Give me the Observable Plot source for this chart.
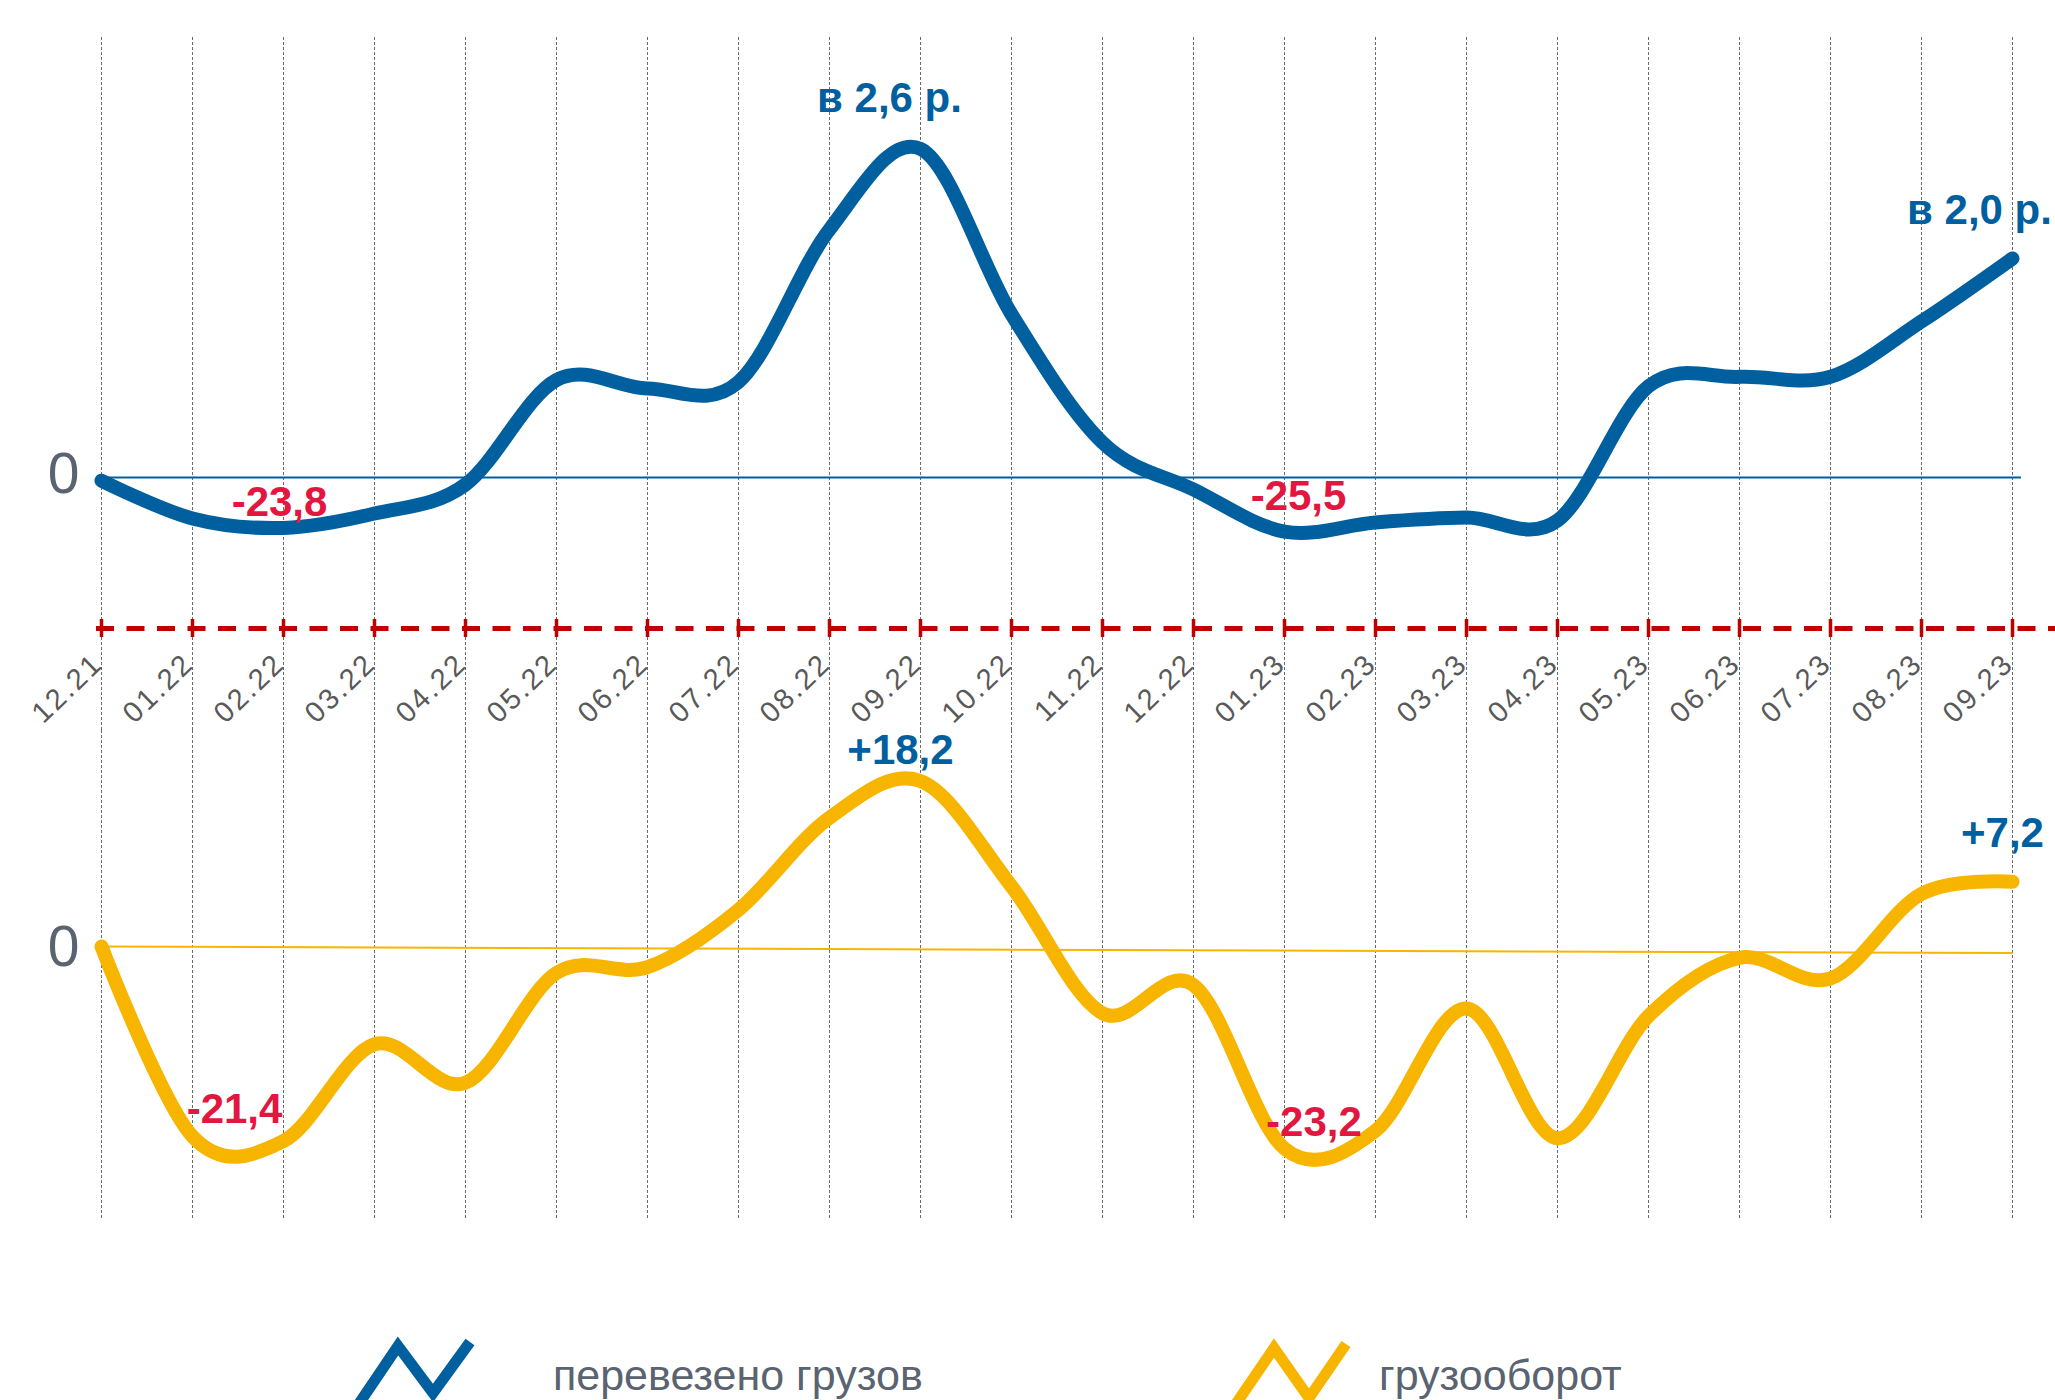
<!DOCTYPE html>
<html>
<head>
<meta charset="utf-8">
<script src="https://cdn.jsdelivr.net/npm/d3@7"></script>
<script src="https://cdn.jsdelivr.net/npm/@observablehq/plot@0.6"></script>
<style>
  html, body { margin: 0; padding: 0; background: #fff; overflow: hidden; }
  #wrap { position: relative; width: 2055px; height: 1400px; overflow: hidden; background: #fff;
          font-family: "Liberation Sans", Arial, sans-serif; }
  #top, #bottom, #legend { position: absolute; left: 0; }
  #top { top: 0; }
  #bottom { top: 730px; }
  #legend { top: 1300px; }
</style>
</head>
<body>
<div id="wrap"><div id="top"></div><div id="bottom"></div><div id="legend"></div></div>
<script>
// ---------- data ----------
const months = ["12.21","01.22","02.22","03.22","04.22","05.22","06.22","07.22","08.22","09.22","10.22",
                "11.22","12.22","01.23","02.23","03.23","04.23","05.23","06.23","07.23","08.23","09.23"];
// перевезено грузов, % к уровню 12.21
const cargo = [-1.5, -19.3, -23.8, -17.0, -3.3, 46, 42, 45, 117, 155, 77,
               16.5, -5.7, -25.5, -21.2, -18.9, -20.3, 43, 47.5, 47.5, 73.6, 103.3];
// грузооборот, % к уровню 12.21
const turnover = [0, -20.2, -20.7, -10.4, -14.5, -2.8, -2.2, 3.9, 13.7, 17.6, 6.4,
                  -7.1, -4.1, -21.5, -19.6, -6.6, -20.4, -7.4, -1.2, -3.4, 5.6, 6.9];
// the drawn zero line of the lower panel drifts slightly (start, end)
const turnoverZeroLine = [0, -0.7];
const seriesNames = ["перевезено грузов", "грузооборот"];
const cargoNotes = [
  {month: "02.22", text: "-23,8", kind: "neg"},
  {month: "09.22", text: "в 2,6 р.", kind: "pos"},
  {month: "01.23", text: "-25,5", kind: "neg"},
  {month: "09.23", text: "в 2,0 р.", kind: "pos"}
];
const turnoverNotes = [
  {month: "02.22", text: "-21,4", kind: "neg"},
  {month: "09.22", text: "+18,2", kind: "pos"},
  {month: "01.23", text: "-23,2", kind: "neg"},
  {month: "09.23", text: "+7,2", kind: "pos"}
];
const zeroLabel = ["0"];

// ---------- styles / layout ----------
const BLUE = "#00609F", YELLOW = "#F8B500", RED_LABEL = "#E3163F", DARK_RED = "#C00000";
const GRAY = "#5A6370", TICK_GRAY = "#595959", GRID = "#6a6a6a";
const FONT = "Liberation Sans, Arial, sans-serif";
const W = 2055;

const cargoData = months.map((m, i) => ({month: m, value: cargo[i]}));
const turnoverData = months.map((m, i) => ({month: m, value: turnover[i]}));
const cargoOf = m => cargo[months.indexOf(m)];
const turnoverOf = m => turnover[months.indexOf(m)];

// top panel scale set-up
const topH = 730, topMT = 37, topMB = 102, topZero = 477, kTop = 2.12;
const yMinTop = -(topH - topMB - topZero) / kTop;
const yMaxTop = (topZero - topMT) / kTop;
const cargoOffsets = [[-4, -11.5], [-31, -36.4], [14, -22], [-33, -35]];

const topPlot = Plot.plot({
  width: W, height: topH,
  marginLeft: 96, marginRight: 39, marginTop: topMT, marginBottom: topMB,
  style: {background: "transparent", fontFamily: FONT, overflow: "visible"},
  x: {type: "point", domain: months, padding: 0, axis: null},
  y: {domain: [yMinTop, yMaxTop], axis: null},
  marks: [
    Plot.ruleX(months, {x: d => d, stroke: GRID, strokeWidth: 1, strokeDasharray: "3,2", insetBottom: -topMB}),
    Plot.ruleY([0], {stroke: BLUE, strokeWidth: 2, insetRight: -5}),
    Plot.ruleY([yMinTop], {stroke: DARK_RED, strokeWidth: 5, strokeDasharray: "18,12.5", insetRight: -39}),
    Plot.ruleX(months, {x: d => d, y1: yMinTop - 9 / kTop, y2: yMinTop + 9 / kTop, stroke: DARK_RED, strokeWidth: 3.5}),
    Plot.line(cargoData, {x: "month", y: "value", stroke: BLUE, strokeWidth: 14, curve: "cardinal",
                          strokeLinecap: "round", strokeLinejoin: "round"}),
    Plot.text(zeroLabel, {x: () => months[0], y: () => 0, text: d => d, textAnchor: "end", lineAnchor: "middle",
                          dx: -22, dy: -3, fontSize: 57, fill: GRAY, fontFamily: FONT}),
    ...cargoNotes.map((n, i) => Plot.text([n], {
      x: "month", y: d => cargoOf(d.month), text: "text", textAnchor: "middle", lineAnchor: "bottom",
      dx: cargoOffsets[i][0], dy: cargoOffsets[i][1], fontSize: 42, fontWeight: "bold", fontFamily: FONT,
      fill: n.kind === "neg" ? RED_LABEL : BLUE
    })),
    Plot.text(months, {x: d => d, frameAnchor: "bottom", text: d => d, rotate: -44, textAnchor: "end",
                       lineAnchor: "bottom", dx: 3, dy: 37, fontSize: 29, fill: TICK_GRAY, fontFamily: FONT})
  ]
});
document.getElementById("top").appendChild(topPlot);
d3.select(topPlot).selectAll("text").filter(function() { return /^\d\d\.\d\d$/.test(this.textContent); })
  .attr("letter-spacing", "2.5px");

// bottom panel
const botH = 510, botMT = 0, botMB = 20, botZero = 216, kBot = 9.4;
const yMinBot = -(botH - botMB - botZero) / kBot;
const yMaxBot = (botZero - botMT) / kBot;
const turnoverOffsets = [[-49, -17.6], [-20, -16.6], [29.4, -12.4], [-10, -34.4]];

const bottomPlot = Plot.plot({
  width: W, height: botH,
  marginLeft: 96, marginRight: 39, marginTop: botMT, marginBottom: botMB,
  style: {background: "transparent", fontFamily: FONT, overflow: "visible"},
  x: {type: "point", domain: months, padding: 0, axis: null},
  y: {domain: [yMinBot, yMaxBot], axis: null},
  marks: [
    Plot.ruleX(months, {x: d => d, stroke: GRID, strokeWidth: 1, strokeDasharray: "3,2"}),
    Plot.link([turnoverZeroLine], {x1: () => months[0], x2: () => months[months.length - 1],
                                   y1: d => d[0], y2: d => d[1], stroke: YELLOW, strokeWidth: 2}),
    Plot.line(turnoverData, {x: "month", y: "value", stroke: YELLOW, strokeWidth: 14, curve: "cardinal",
                             strokeLinecap: "round", strokeLinejoin: "round"}),
    Plot.text(zeroLabel, {x: () => months[0], y: () => 0, text: d => d, textAnchor: "end", lineAnchor: "middle",
                          dx: -22, dy: 1, fontSize: 57, fill: GRAY, fontFamily: FONT}),
    ...turnoverNotes.map((n, i) => Plot.text([n], {
      x: "month", y: d => turnoverOf(d.month), text: "text", textAnchor: "middle", lineAnchor: "bottom",
      dx: turnoverOffsets[i][0], dy: turnoverOffsets[i][1], fontSize: 42, fontWeight: "bold", fontFamily: FONT,
      fill: n.kind === "neg" ? RED_LABEL : BLUE
    }))
  ]
});
document.getElementById("bottom").appendChild(bottomPlot);

// legend
const leg = d3.select("#legend").append("svg").attr("width", W).attr("height", 130)
  .style("overflow", "visible");
const legendItems = [
  {name: seriesNames[0], color: BLUE, icon: [[352, 114], [398, 46], [433, 93], [470, 42]], tx: 553},
  {name: seriesNames[1], color: YELLOW, icon: [[1229, 114], [1274, 48], [1309, 98], [1346, 44]], tx: 1379}
];
legendItems.forEach(it => {
  leg.append("polyline").attr("points", it.icon.map(p => p.join(",")).join(" "))
    .attr("fill", "none").attr("stroke", it.color).attr("stroke-width", 11).attr("stroke-linejoin", "miter");
  leg.append("text").attr("x", it.tx).attr("y", 90).attr("font-size", 43).attr("font-family", FONT)
    .attr("fill", GRAY).text(it.name);
});
</script>
</body>
</html>
